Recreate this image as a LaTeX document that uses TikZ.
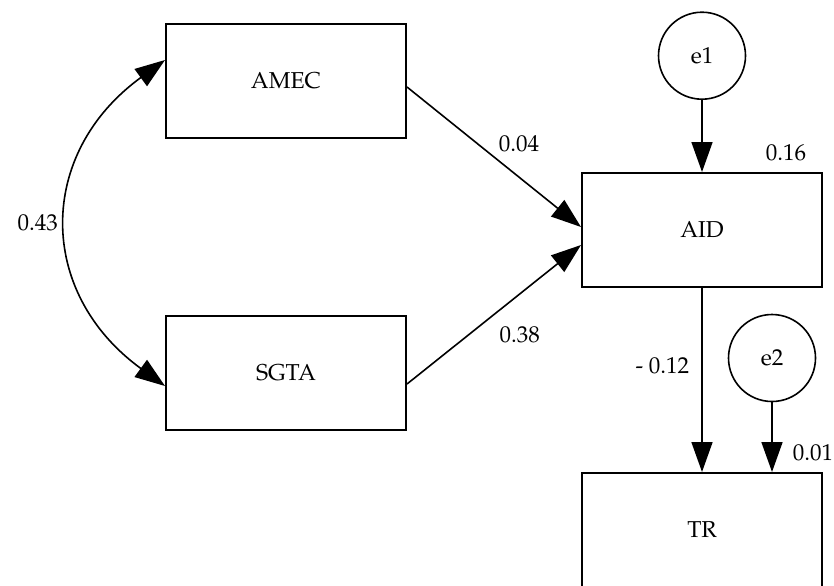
\documentclass[tikz,border=0pt]{standalone}
\usepackage[T1]{fontenc}
\usepackage{mathpazo}
\usetikzlibrary{arrows.meta, positioning}

\begin{document}
\begin{tikzpicture}[
    x=0.5pt, y=-0.5pt,
    % Styles for the path model
    observed/.style={rectangle, draw=black, line width=1pt, minimum width=120pt, minimum height=57pt, font=\fontsize{11.5}{13}\selectfont},
    resid/.style={circle, draw=black, line width=0.8pt, minimum size=43.5pt, inner sep=0pt, font=\fontsize{11.5}{13}\selectfont},
    coef/.style={font=\fontsize{11.5}{13}\selectfont, inner sep=2pt},
    effect/.style={draw, line width=0.8pt, -{Triangle[length=15pt,width=10.5pt]}},
    covar/.style={draw, line width=0.8pt, {Triangle[length=15pt,width=10.5pt]}-{Triangle[length=15pt,width=10.5pt]}}
]
    \useasboundingbox (0,0) rectangle (834,585);

    % --- EXOGENOUS VARIABLES (left) ---
    \node [observed] (amec) at (286,81) {AMEC};
    \node [observed, below=88pt of amec] (sgta) {SGTA};

    % --- MEDIATOR AND OUTCOME (right) ---
    \node [observed] (aid) at (702,230) {AID};
    \node [resid, above=36pt of aid] (e1) {e1};
    \node [observed, below=92pt of aid] (tr) {TR};
    \node [resid] (e2) at (772,358) {e2};

    % --- SQUARED MULTIPLE CORRELATIONS ---
    \node [coef] (r2aid) at (786,153) {0.16};
    \node [coef] (r2tr) at (813,453) {0.01};

    % --- PATHS ---
    \draw [covar] ([yshift=-6.5pt]sgta.west) to[out=144, in=216, looseness=1.25] node[coef, left=3pt] {0.43} ([yshift=10.5pt]amec.west);
    \draw [effect] ([yshift=-3pt]amec.east) -- node[coef, pos=0.5, above right] {0.04} ([yshift=1.5pt]aid.west);
    \draw [effect] ([yshift=-5.5pt]sgta.east) -- node[coef, pos=0.48, below right=3pt] {0.38} ([yshift=-7.5pt]aid.west);
    \draw [effect] (aid.south) -- node[coef, pos=0.42, left=4pt] {- 0.12} (tr.north);

    % error terms
    \draw [effect] (e1.south) -- (e1.south |- aid.north);
    \draw [effect] (e2.south) -- (e2.south |- tr.north);

\end{tikzpicture}
\end{document}
